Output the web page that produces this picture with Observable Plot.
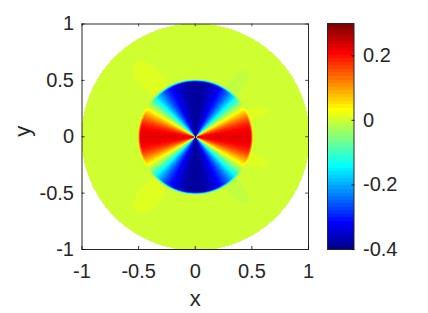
<!DOCTYPE html>
<html><head><meta charset="utf-8">
<script src="https://cdn.jsdelivr.net/npm/d3@7"></script>
<script src="https://cdn.jsdelivr.net/npm/@observablehq/plot@0.6"></script>
<style>
html,body{margin:0;padding:0;background:#fff;overflow:hidden}
#c{position:relative;width:428px;height:313px}
#c svg{position:absolute;top:0;overflow:visible}
</style></head><body><div id="c"></div>
<script>
// Values
const xTicks = [-1, -0.5, 0, 0.5, 1];
const yTicks = [-1, -0.5, 0, 0.5, 1];
const barTicks = [-0.4, -0.2, 0, 0.2];
const colorDomain = [-0.4, 0.3];
const jetStops = ["#000080","#0000ff","#0080ff","#00ffff","#80ff80","#ffff00","#ff8000","#ff0000","#800000"];
// inner disc: field value against polar angle (degrees from the x axis)
const profileAngle = [0, 5, 10, 15, 20, 25, 30, 33, 36, 40, 45, 50, 55, 60, 65, 70, 75, 80, 90];
const profileValue = [0.225, 0.22, 0.205, 0.18, 0.14, 0.09, 0.035, 0.0, -0.035, -0.085, -0.15, -0.205, -0.255, -0.295, -0.325, -0.345, -0.365, -0.38, -0.39];
// rim of the inner disc: radius against share of the field that remains
const rimRadius = [0, 0.485, 0.497, 0.51];
const rimShare = [1, 1, 0.6, 0];
// faint lobes outside the disc
const lobeX = [-0.4, -0.4, 0.35, 0.35, 0.52, 0.52];
const lobeY = [0.515, -0.515, 0.455, -0.455, 0.208, -0.208];
const lobeLong = [0.19, 0.19, 0.165, 0.165, 0.12, 0.12];
const lobeShort = [0.1, 0.1, 0.065, 0.065, 0.05, 0.05];
const lobeTilt = [-50, 50, 50, -50, 15, -15];
const lobeValue = [0.01, 0.01, -0.012, -0.012, 0.01, 0.01];
// dark spike along the y axis at the centre
const spikeLength = 0.11;
const spikeWidth = 0.005;
const spikeValue = -0.4;

const jet = d3.piecewise(d3.interpolateRgb, jetStops);
const color = {domain: colorDomain, clamp: true, interpolate: t => jet((Math.min(63, Math.floor(t * 64)) + 1) / 64)};
const ink = "#262626";
const font = "Liberation Sans, Arial, sans-serif";

function lookup(xs, ys, v) {
  const i = Math.max(1, Math.min(xs.length - 1, d3.bisectLeft(xs, v)));
  const k = (v - xs[i - 1]) / (xs[i] - xs[i - 1]);
  return ys[i - 1] + k * (ys[i] - ys[i - 1]);
}
function field(x, y) {
  const r = Math.hypot(x, y);
  if (r > 1.004) return NaN;
  if (Math.abs(x) < spikeWidth && r < spikeLength) return spikeValue;
  let a = Math.abs(Math.atan2(y, x)) * 180 / Math.PI;
  if (a > 90) a = 180 - a;
  let out = 0;
  lobeX.forEach((lx, i) => {
    const t = lobeTilt[i] * Math.PI / 180;
    const u = (x - lx) * Math.cos(t) + (y - lobeY[i]) * Math.sin(t);
    const w = -(x - lx) * Math.sin(t) + (y - lobeY[i]) * Math.cos(t);
    if ((u / lobeLong[i]) ** 2 + (w / lobeShort[i]) ** 2 < 1) out = lobeValue[i];
  });
  if (r < 0.51) {
    const s = lookup(rimRadius, rimShare, r);
    out = out * (1 - s) + lookup(profileAngle, profileValue, a) * s;
  }
  return out;
}

const fs = 20;
const fmt = d => String(d);
const main = Plot.plot({
  width: 330, height: 313,
  marginLeft: 81.5, marginRight: 22, marginTop: 23.5, marginBottom: 64,
  style: {fontFamily: font, background: "transparent", fontSize: fs + "px"},
  x: {domain: [-1, 1], label: null},
  y: {domain: [-1, 1], label: null},
  color,
  marks: [
    Plot.raster({x1: -1, y1: -1, x2: 1, y2: 1, pixelSize: 1, imageRendering: "pixelated", fill: field}),
    Plot.frame({stroke: ink, strokeWidth: 1}),
    Plot.axisX(xTicks, {anchor: "bottom", tickSize: -3, tickPadding: 17, tickFormat: fmt, fontSize: fs, fill: ink, strokeWidth: 0.8, label: null}),
    Plot.axisY(yTicks, {anchor: "left", tickSize: -3, tickPadding: 11, tickFormat: fmt, fontSize: fs, fill: ink, strokeWidth: 0.8, label: null}),
    Plot.ruleX(xTicks, {y1: 1, y2: 0.975, stroke: ink, strokeWidth: 0.8}),
    Plot.ruleY(yTicks, {x1: 1, x2: 0.975, stroke: ink, strokeWidth: 0.8}),
    Plot.text(["x"], {frameAnchor: "bottom", dy: 56, fontSize: 22, fill: ink}),
    Plot.text(["y"], {frameAnchor: "left", dx: -59, rotate: -90, fontSize: 22, fill: ink})
  ]
});
const bar = Plot.plot({
  width: 98, height: 313,
  marginLeft: 0, marginRight: 71.5, marginTop: 23, marginBottom: 64,
  style: {fontFamily: font, background: "transparent", fontSize: fs + "px"},
  x: {domain: [0, 1], axis: null},
  y: {domain: colorDomain, label: null},
  color,
  marks: [
    Plot.raster({x1: 0, x2: 1, y1: colorDomain[0], y2: colorDomain[1], pixelSize: 1, imageRendering: "pixelated", fill: (x, y) => y}),
    Plot.frame({stroke: ink, strokeWidth: 1}),
    Plot.axisY(barTicks, {anchor: "right", tickSize: -3, tickPadding: 12, tickFormat: fmt, fontSize: fs, fill: ink, strokeWidth: 0.8, label: null})
  ]
});
bar.style.left = "326.5px";
main.style.left = "0px";
const c = document.getElementById("c");
c.append(main, bar);
</script></body></html>
